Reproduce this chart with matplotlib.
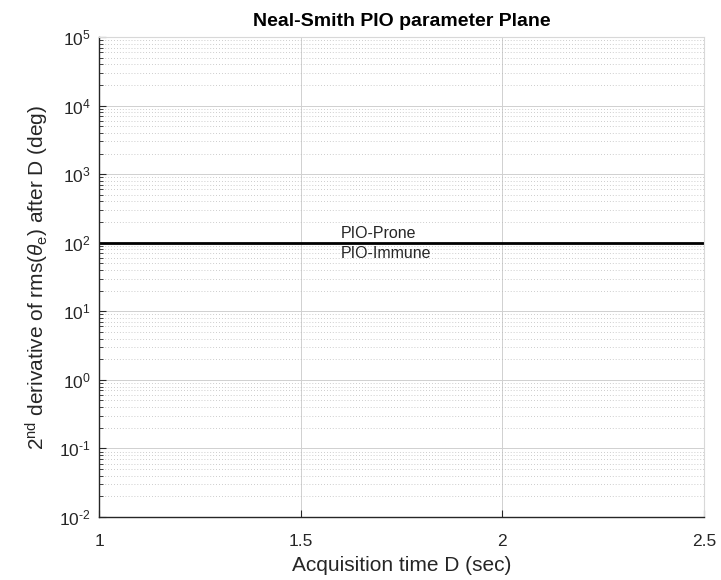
import matplotlib
matplotlib.use("Agg")
import matplotlib.pyplot as plt
from matplotlib.ticker import FixedLocator, FuncFormatter
import numpy as np

plt.rcParams['font.family'] = ['Liberation Sans', 'DejaVu Sans']
plt.rcParams['mathtext.fontset'] = 'custom'
plt.rcParams['mathtext.rm'] = 'Liberation Sans'
plt.rcParams['mathtext.it'] = 'Liberation Sans:italic'
plt.rcParams['mathtext.bf'] = 'Liberation Sans:bold'
plt.rcParams['axes.unicode_minus'] = False

# boundary line between PIO-prone and PIO-immune regions
boundaryX = [1.0, 2.5]
boundaryY = [100, 100]
labelX = 1.6
labelTexts = ["PIO-Prone", "PIO-Immune"]
xTicks = [1, 1.5, 2, 2.5]
xTickLabels = ['1', '1.5', '2', '2.5']
yExponents = [-2, -1, 0, 1, 2, 3, 4, 5]
xLimits = (1, 2.5)
yLimits = (1e-2, 1e5)

yMajor = [10.0 ** e for e in yExponents]
yMinor = [m * 10.0 ** e for e in yExponents[:-1] for m in range(2, 10)]


def decadeLabel(value, pos):
    e = int(round(np.log10(value)))
    if e < 0:
        return r'$10^{\text{-}%d}$' % (-e)
    return r'$10^{%d}$' % e


fig = plt.figure(figsize=(7.21, 5.80), dpi=100)
ax = fig.add_axes([99 / 721, 63 / 580, 605 / 721, 480 / 580])

ax.plot(boundaryX, boundaryY, color='black', lw=2)
ax.text(labelX, boundaryY[0] * 1.06, labelTexts[0], ha='left', va='bottom',
        fontsize=11.5, color='#262626')
ax.text(labelX, boundaryY[0] / 1.12, labelTexts[1], ha='left', va='top',
        fontsize=11.5, color='#262626')

ax.set_yscale('log')
ax.set_xlim(*xLimits)
ax.set_ylim(*yLimits)
ax.set_xticks(xTicks)
ax.set_xticklabels(xTickLabels)
ax.yaxis.set_major_locator(FixedLocator(yMajor))
ax.yaxis.set_minor_locator(FixedLocator(yMinor))
ax.yaxis.set_major_formatter(FuncFormatter(decadeLabel))
ax.yaxis.set_minor_formatter(FuncFormatter(lambda v, p: ''))

# MATLAB-like grid
ax.grid(True, which='major', color='#d0d0d0', lw=0.7, ls='-')
ax.grid(True, which='minor', axis='y', color='#bcbcbc', lw=0.6, ls=(0, (1, 2.5)))
ax.set_axisbelow(True)

ax.tick_params(which='both', direction='in', colors='#262626', labelsize=12.5,
               top=False, right=False)
ax.tick_params(which='major', length=5)
ax.tick_params(which='minor', length=3)
ax.tick_params(axis='x', pad=12)
ax.tick_params(axis='y', pad=6)

for side in ['left', 'bottom']:
    ax.spines[side].set_color('#262626')
    ax.spines[side].set_linewidth(1.0)
for side in ['top', 'right']:
    ax.spines[side].set_color('#d8d8d8')
    ax.spines[side].set_linewidth(0.8)

ax.set_title('Neal-Smith PIO parameter Plane', fontsize=14, fontweight='bold',
             pad=8)
ax.set_xlabel('Acquisition time D (sec)', fontsize=15, color='#262626', labelpad=5)
ax.set_ylabel(r'2$^{\rm nd}$ derivative of rms($\theta_{\rm e}$) after D (deg)',
              fontsize=15, color='#262626', labelpad=6)

fig.savefig('out.png', dpi=100, facecolor='white')
